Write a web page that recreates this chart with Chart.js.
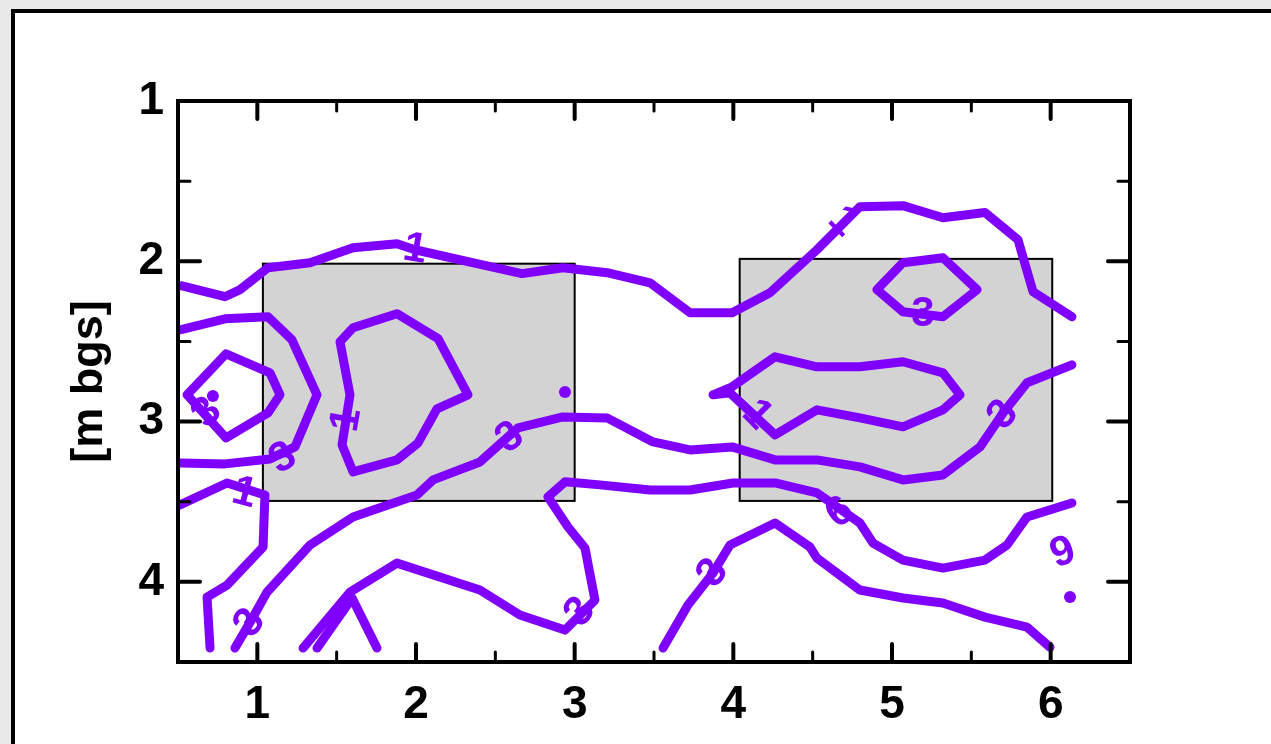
<!DOCTYPE html>
<html>
<head>
<meta charset="utf-8">
<script src="https://cdn.jsdelivr.net/npm/chart.js@4/dist/chart.umd.min.js"></script>
<style>
html,body{margin:0;padding:0;background:#e9e9e9;}
#wrap{position:absolute;left:0;top:0;width:1271px;height:744px;}
canvas{display:block;}
</style>
</head>
<body>
<div id="wrap"><canvas id="c" width="1271" height="744"></canvas></div>
<script>
// ---- data (x = horizontal position, y = depth [m bgs]) ----
const xTickLabels = ['1','2','3','4','5','6'];
const yTickLabels = ['1','2','3','4'];

const contour1Top = [[0.519,2.152],[0.796,2.221],[0.891,2.177],[1.067,2.040],[1.332,2.009],[1.603,1.915],[1.880,1.890],[1.994,1.928],[2.384,2.015],[2.668,2.077],[2.926,2.040],[3.204,2.071],[3.475,2.134],[3.727,2.321],[3.992,2.321],[4.231,2.196],[4.527,1.928],[4.798,1.659],[5.069,1.653],[5.321,1.728],[5.586,1.696],[5.794,1.865],[5.889,2.190],[6.134,2.346]];
const contour3RightLoop = [[4.905,2.177],[5.069,2.009],[5.321,1.978],[5.536,2.177],[5.321,2.346],[5.069,2.315],[4.905,2.177]];
const contour1RightLoop = [[3.872,2.833],[3.992,2.783],[4.263,2.596],[4.527,2.658],[4.798,2.658],[5.069,2.627],[5.321,2.696],[5.428,2.833],[5.321,2.927],[5.069,3.033],[4.798,2.977],[4.527,2.927],[4.263,3.083],[3.979,2.821],[3.872,2.833]];
const contour3Middle = [[0.859,4.413],[0.973,4.220],[1.061,4.064],[1.332,3.770],[1.603,3.595],[2.006,3.458],[2.107,3.364],[2.403,3.252],[2.643,3.039],[2.926,2.971],[3.204,2.977],[3.494,3.127],[3.727,3.177],[3.992,3.158],[4.263,3.239],[4.527,3.239],[4.798,3.283],[5.069,3.364],[5.321,3.333],[5.555,3.158],[5.700,2.946],[5.851,2.758],[6.134,2.646]];
const contour3Left = [[0.519,2.427],[0.796,2.359],[1.067,2.346],[1.218,2.490],[1.376,2.833],[1.237,3.158],[1.080,3.233],[0.796,3.264],[0.519,3.258]];
const contour3LeftLoop = [[0.557,2.833],[0.803,2.577],[1.080,2.696],[1.143,2.833],[1.067,2.946],[0.803,3.102],[0.557,2.833]];
const contour1LeftLoop = [[1.521,2.502],[1.603,2.415],[1.880,2.327],[2.139,2.483],[2.328,2.833],[2.132,2.921],[2.013,3.133],[1.880,3.239],[1.603,3.314],[1.534,3.145],[1.584,2.833],[1.521,2.502]];
const contour1Lower = [[0.513,3.520],[0.809,3.383],[1.048,3.458],[1.036,3.783],[0.809,4.020],[0.683,4.095],[0.702,4.413]];
const contour3Lower = [[1.288,4.413],[1.584,4.064],[1.880,3.883],[2.403,4.051],[2.655,4.207],[2.939,4.301],[3.128,4.114],[3.065,3.789],[2.958,3.658],[2.832,3.470],[2.939,3.376],[3.160,3.395],[3.475,3.427],[3.727,3.427],[3.998,3.383],[4.263,3.383],[4.527,3.445],[4.798,3.633],[4.880,3.758],[5.069,3.864],[5.321,3.914],[5.586,3.864],[5.725,3.770],[5.851,3.595],[6.134,3.508]];
const contourSpike = [[1.376,4.413],[1.597,4.101],[1.754,4.413]];
const contour3Bottom = [[3.557,4.413],[3.714,4.145],[3.872,3.945],[3.979,3.770],[4.263,3.633],[4.483,3.783],[4.527,3.852],[4.798,4.051],[5.069,4.101],[5.321,4.132],[5.586,4.220],[5.851,4.283],[5.996,4.408]];
const contourDots = [[2.939,2.815],[6.122,4.095],[0.720,2.840]];

// shaded boxes: [xMin, xMax, yTop, yBottom]
const boxLeft = [1.035, 3.0, 2.015, 3.495];
const boxRight = [4.04, 6.01, 1.985, 3.495];

// contour labels
const labelText = ['1','1','1','1','1','3','3','3','3','3','3','3','3','6','9'];
const labelX = [1.994,4.691,4.149,1.565,0.918,1.162,2.592,0.954,3.034,3.872,5.195,5.700,0.683,4.672,6.078];
const labelY = [1.928,1.753,2.958,2.989,3.448,3.229,3.102,4.257,4.189,3.945,2.334,2.958,2.946,3.570,3.820];
const labelAngle = [10,45,45,-80,15,-30,-35,-55,-50,-55,0,-50,-45,-35,-20];

const lines = [contour1Top, contour3RightLoop, contour1RightLoop, contour3Middle, contour3Left, contour3LeftLoop, contour1LeftLoop, contour1Lower, contour3Lower, contourSpike, contour3Bottom];

const PURPLE = '#8000ff';
const FONT = '"Liberation Sans", Arial, sans-serif';

const datasets = lines.map(l => ({
  data: l.map(p => ({x: p[0], y: p[1]})),
  showLine: true,
  borderColor: PURPLE,
  backgroundColor: PURPLE,
  borderWidth: 9,
  pointRadius: 0,
  fill: false,
  tension: 0,
  borderCapStyle: 'round',
  borderJoinStyle: 'round'
}));
datasets.push({
  data: contourDots.map(p => ({x: p[0], y: p[1]})),
  showLine: false,
  pointRadius: 6,
  pointBorderWidth: 0,
  backgroundColor: PURPLE,
  borderColor: PURPLE
});

const framePlugin = {
  id: 'frame',
  beforeDraw(chart) {
    const ctx = chart.ctx;
    ctx.save();
    ctx.fillStyle = '#e9e9e9';
    ctx.fillRect(0, 0, chart.width, chart.height);
    ctx.fillStyle = '#ffffff';
    ctx.fillRect(13, 11, chart.width, chart.height);
    ctx.strokeStyle = '#000';
    ctx.lineWidth = 4;
    ctx.beginPath();
    ctx.moveTo(13, chart.height + 5);
    ctx.lineTo(13, 11);
    ctx.lineTo(chart.width + 5, 11);
    ctx.stroke();
    ctx.restore();
  },
  beforeDatasetsDraw(chart) {
    const ctx = chart.ctx, xs = chart.scales.x, ys = chart.scales.y;
    ctx.save();
    [boxLeft, boxRight].forEach(b => {
      const x0 = xs.getPixelForValue(b[0]), x1 = xs.getPixelForValue(b[1]);
      const y0 = ys.getPixelForValue(b[2]), y1 = ys.getPixelForValue(b[3]);
      ctx.fillStyle = '#d3d3d3';
      ctx.fillRect(x0, y0, x1 - x0, y1 - y0);
      ctx.strokeStyle = '#000';
      ctx.lineWidth = 2;
      ctx.strokeRect(x0, y0, x1 - x0, y1 - y0);
    });
    ctx.restore();
  },
  afterDatasetsDraw(chart) {
    const ctx = chart.ctx, xs = chart.scales.x, ys = chart.scales.y;
    const a = chart.chartArea;
    ctx.save();
    // contour labels
    ctx.fillStyle = PURPLE;
    ctx.font = 'bold 42px ' + FONT;
    ctx.textAlign = 'center';
    ctx.textBaseline = 'middle';
    for (let i = 0; i < labelText.length; i++) {
      ctx.save();
      ctx.translate(xs.getPixelForValue(labelX[i]), ys.getPixelForValue(labelY[i]));
      ctx.rotate(labelAngle[i] * Math.PI / 180);
      ctx.fillText(labelText[i], 0, 0);
      ctx.restore();
    }
    // axis box
    ctx.strokeStyle = '#000';
    ctx.lineCap = 'square';
    ctx.lineWidth = 4;
    ctx.strokeRect(a.left, a.top, a.right - a.left, a.bottom - a.top);
    ctx.lineCap = 'round';
    // x ticks (inward, bottom and top)
    xs.ticks.forEach(t => {
      const v = t.value;
      if (v <= xs.min || v >= xs.max) return;
      const major = Math.abs(v - Math.round(v)) < 1e-6;
      const len = major ? 18 : 10;
      ctx.lineWidth = major ? 4 : 3;
      const px = xs.getPixelForValue(v);
      ctx.beginPath();
      ctx.moveTo(px, a.bottom); ctx.lineTo(px, a.bottom - len);
      ctx.moveTo(px, a.top); ctx.lineTo(px, a.top + len);
      ctx.stroke();
    });
    ys.ticks.forEach(t => {
      const v = t.value;
      if (v <= ys.min || v >= ys.max) return;
      const major = Math.abs(v - Math.round(v)) < 1e-6;
      const len = major ? 22 : 12;
      ctx.lineWidth = major ? 4 : 3;
      const py = ys.getPixelForValue(v);
      ctx.beginPath();
      ctx.moveTo(a.left, py); ctx.lineTo(a.left + len, py);
      ctx.moveTo(a.right, py); ctx.lineTo(a.right - len, py);
      ctx.stroke();
    });
    ctx.restore();
  }
};

new Chart(document.getElementById('c'), {
  type: 'scatter',
  data: { datasets },
  options: {
    responsive: false,
    animation: false,
    devicePixelRatio: 1,
    layout: { padding: { left: 0, top: 101, right: 141, bottom: 0 } },
    plugins: { legend: { display: false }, tooltip: { enabled: false } },
    scales: {
      x: {
        type: 'linear', min: 0.5, max: 6.5,
        grid: { display: false, drawTicks: false },
        border: { display: false },
        ticks: {
          stepSize: 0.5, padding: 16, color: '#000', maxRotation: 0, autoSkip: false,
          font: { family: FONT, size: 46, weight: 'bold' },
          callback: v => { const s = String(v); return xTickLabels.includes(s) ? s : ''; }
        },
        afterFit: s => { s.height = 82; }
      },
      y: {
        type: 'linear', min: 1, max: 4.5, reverse: true,
        grid: { display: false, drawTicks: false },
        border: { display: false },
        title: { display: true, text: '[m bgs]', color: '#000', padding: { top: 63, bottom: 0 },
          font: { family: FONT, size: 45, weight: 'bold' } },
        ticks: {
          stepSize: 0.5, padding: 14, color: '#000', autoSkip: false,
          font: { family: FONT, size: 46, weight: 'bold' },
          callback: v => { const s = String(v); return yTickLabels.includes(s) ? s : ''; }
        },
        afterFit: s => { s.width = 178; }
      }
    }
  },
  plugins: [framePlugin]
});
</script>
</body>
</html>
